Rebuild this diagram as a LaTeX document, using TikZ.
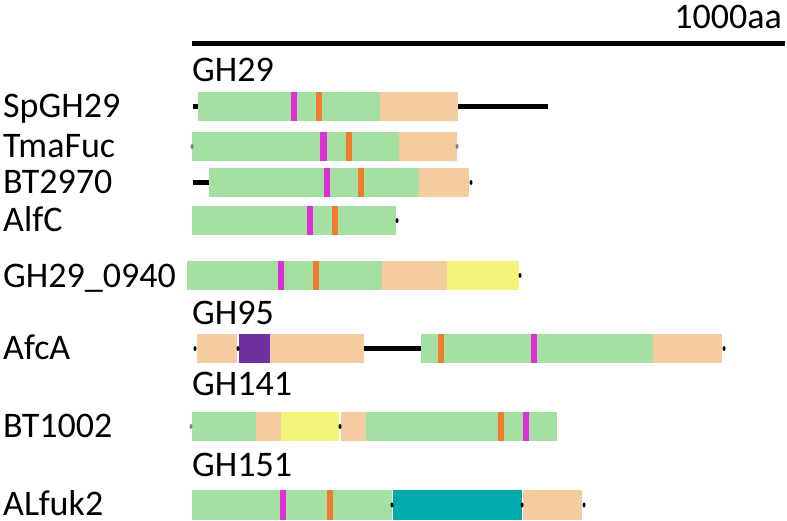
\documentclass[tikz,border=0pt]{standalone}
\usepackage{fontspec}
\setmainfont{Carlito}
\definecolor{dgreen}{HTML}{A3E0A2}
\definecolor{dpeach}{HTML}{F5CBA0}
\definecolor{dmag}{HTML}{DD2FD8}
\definecolor{dorange}{HTML}{F07C30}
\definecolor{dyellow}{HTML}{F4F47A}
\definecolor{dpurple}{HTML}{7030A0}
\definecolor{dteal}{HTML}{00AAAA}
\tikzset{
  lbl/.style={anchor=base west, inner sep=0pt, text depth=0pt, font=\fontsize{36}{40}\selectfont},
  grp/.style={anchor=base west, inner sep=0pt, text depth=0pt, font=\fontsize{36}{40}\selectfont},
  linker/.style={line width=5pt, black},
  enddot/.style={fill=black, inner sep=0pt, minimum width=3pt, minimum height=5pt, ellipse},
  gdot/.style={fill=gray, inner sep=0pt, minimum width=3pt, minimum height=5pt, ellipse},
}
\usetikzlibrary{shapes.geometric}
\begin{document}
\begin{tikzpicture}[x=1pt,y=-1pt]
\useasboundingbox (0,0) rectangle (787,520);
% scale bar
\node[anchor=base east, inner sep=0pt, text depth=0pt, font=\fontsize{36}{40}\selectfont] (scale) at (782,28) {1000aa};
\coordinate (sb1) at (192,43);
\coordinate (sb2) at (785,43);
\draw[linker] (sb1) -- (sb2);
% group labels
\node[grp] (g29) at (192,81) {GH29};
\node[grp] (g95) at (192,324) {GH95};
\node[grp] (g141) at (192,395) {GH141};
\node[grp] (g151) at (192,476) {GH151};
% row labels
\node[lbl] (l1) at (3,117) {SpGH29};
\node[lbl] (l2) at (3,157) {TmaFuc};
\node[lbl] (l3) at (3,193) {BT2970};
\node[lbl] (l4) at (3,231) {AlfC};
\node[lbl] (l5) at (3,287) {GH29\_0940};
\node[lbl] (l6) at (3,359) {AfcA};
\node[lbl] (l7) at (3,437) {BT1002};
\node[lbl] (l8) at (3,515) {ALfuk2};
% SpGH29 92-121
\draw[linker] (193,106.5) -- (198,106.5);
\draw[linker] (458,106.5) -- (548,106.5);
\fill[dgreen] (198,92) rectangle (380,121);
\fill[dpeach] (380,92) rectangle (458,121);
\fill[dmag] (291,92) rectangle (297,121);
\fill[dorange] (316,92) rectangle (322,121);
% TmaFuc 132-161
\fill[dgreen] (192,132) rectangle (399,161);
\fill[dpeach] (399,132) rectangle (457,161);
\fill[dmag] (320,132) rectangle (327,161);
\fill[dorange] (346,132) rectangle (352,161);
\node[gdot] at (192,146.5) {};
\node[gdot] at (457,146.5) {};
% BT2970 168-197
\draw[linker] (193,182.5) -- (209,182.5);
\fill[dgreen] (209,168) rectangle (419,197);
\fill[dpeach] (419,168) rectangle (469,197);
\fill[dmag] (324,168) rectangle (330,197);
\fill[dorange] (358,168) rectangle (364,197);
\node[enddot] at (471,182.5) {};
% AlfC 206-235
\fill[dgreen] (192,206) rectangle (396,235);
\fill[dmag] (307,206) rectangle (313,235);
\fill[dorange] (332,206) rectangle (338,235);
\node[enddot] at (397,220.5) {};
% GH29_0940 261-290
\fill[dgreen] (187,261) rectangle (382,290);
\fill[dpeach] (382,261) rectangle (447,290);
\fill[dyellow] (447,261) rectangle (519,290);
\fill[dmag] (278,261) rectangle (284,290);
\fill[dorange] (313,261) rectangle (319,290);
\node[enddot] at (520,275.5) {};
% AfcA 334-363
\draw[linker] (364,348.5) -- (421,348.5);
\fill[dpeach] (197,334) rectangle (237,363);
\fill[dpurple] (239,334) rectangle (270,363);
\fill[dpeach] (270,334) rectangle (364,363);
\fill[dgreen] (421,334) rectangle (653,363);
\fill[dorange] (438,334) rectangle (444,363);
\fill[dmag] (531,334) rectangle (537,363);
\fill[dpeach] (653,334) rectangle (722,363);
\node[enddot] at (195,348.5) {};
\node[enddot] at (238,348.5) {};
\node[enddot] at (724,348.5) {};
% BT1002 412-441
\fill[dgreen] (192,412) rectangle (256,441);
\fill[dpeach] (256,412) rectangle (281,441);
\fill[dyellow] (281,412) rectangle (339,441);
\fill[dpeach] (341,412) rectangle (366,441);
\fill[dgreen] (366,412) rectangle (557,441);
\fill[dorange] (498,412) rectangle (504,441);
\fill[dmag] (523,412) rectangle (529,441);
\node[gdot] at (191,426.5) {};
\node[enddot] at (340,426.5) {};
% ALfuk2 490-520
\fill[dgreen] (192,490) rectangle (392,520);
\fill[dmag] (280,490) rectangle (286,520);
\fill[dorange] (327,490) rectangle (333,520);
\fill[dteal] (393,490) rectangle (522,520);
\fill[dpeach] (523,490) rectangle (582,520);
\node[enddot] at (392,505) {};
\node[enddot] at (522,505) {};
\node[enddot] at (584,505) {};
\end{tikzpicture}
\end{document}
